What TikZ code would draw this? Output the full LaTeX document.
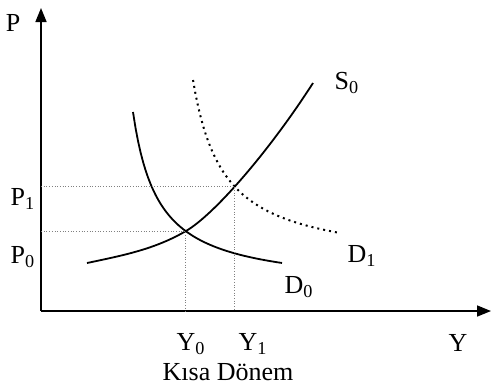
\documentclass[tikz,border=0pt]{standalone}
\usepackage{fontspec}
\setmainfont{Liberation Serif}
\usetikzlibrary{arrows.meta, positioning, intersections}

\begin{document}
\begin{tikzpicture}[x=0.5pt, y=-0.5pt,
    axis/.style={draw, line width=0.8pt, -{Triangle[length=7pt, width=5.5pt]}},
    curve/.style={draw, line width=0.9pt},
    shifted/.style={draw, line width=1pt, dotted},
    guide/.style={draw, gray, line width=0.35pt, densely dotted},
    lbl/.style={font=\fontsize{13}{15}\selectfont, inner sep=0pt}]

    \useasboundingbox (0,0) rectangle (491,388);

    % axes
    \coordinate (origin) at (41,311);
    \coordinate (ptop) at (41,8);
    \coordinate (yend) at (491,311);
    \draw [axis] (origin) -- (ptop);
    \draw [axis] (origin) -- (yend);

    % supply and demand
    \draw [curve, name path=supply] (87,263)
        .. controls (125,255) and (155,249) .. (186,231)
        .. controls (215,214) and (270,150) .. (313,83);
    \draw [curve, name path=demand] plot[domain=133:282, samples=60]
        (\x, {288.9 - 4528/(\x - 107.4)});
    \draw [shifted, name path=demandnew] plot[domain=193:340, samples=60]
        (\x, {264.8 - 5655/(\x - 162.4)});

    % equilibria
    \path [name intersections={of=supply and demand, by=e0}];
    \path [name intersections={of=supply and demandnew, by=e1}];
    \draw [guide] (origin |- e0) -- (e0) -- (e0 |- origin);
    \draw [guide] (origin |- e1) -- (e1) -- (e1 |- origin);

    % labels
    \node [lbl] (plab) at (13,23) {P};
    \node [lbl] (p1) at (23,199) {P\textsubscript{1}};
    \node [lbl] (p0) at (23,257) {P\textsubscript{0}};
    \node [lbl] (s0) at (347,83) {S\textsubscript{0}};
    \node [lbl] (d1) at (362,256) {D\textsubscript{1}};
    \node [lbl] (d0) at (299,287) {D\textsubscript{0}};
    \node [lbl] (y0) at (191,344) {Y\textsubscript{0}};
    \node [lbl] (y1) at (253,344) {Y\textsubscript{1}};
    \node [lbl] (ylab) at (458,343) {Y};
    \node [lbl] (title) at (228,372) {Kısa Dönem};
\end{tikzpicture}
\end{document}
